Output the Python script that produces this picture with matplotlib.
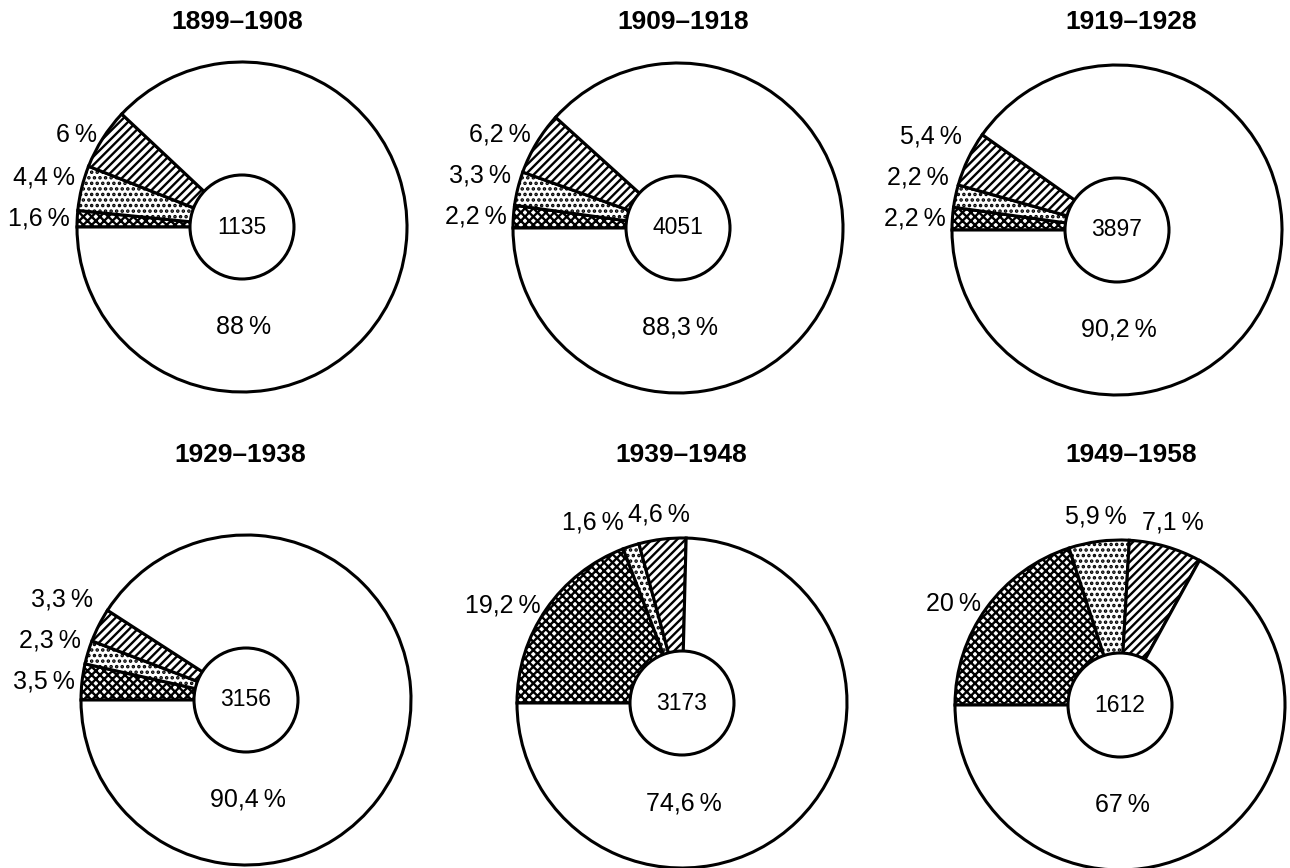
import matplotlib
matplotlib.use("Agg")
import matplotlib.pyplot as plt
from matplotlib.patches import Circle
import numpy as np

plt.rcParams['font.family'] = ['Liberation Sans', 'DejaVu Sans']
plt.rcParams['hatch.linewidth'] = 1.7

# ---- data ----
periods = ["1899–1908", "1909–1918", "1919–1928",
           "1929–1938", "1939–1948", "1949–1958"]
totals = [1135, 4051, 3897, 3156, 3173, 1612]
share_cross = [1.6, 2.2, 2.2, 3.5, 19.2, 20]
share_dots = [4.4, 3.3, 2.2, 2.3, 1.6, 5.9]
share_hatch = [6, 6.2, 5.4, 3.3, 4.6, 7.1]
share_main = [88, 88.3, 90.2, 90.4, 74.6, 67]

# ---- layout (pixel positions, y measured from top) ----
W, H = 1290, 868
centers_px = [(242, 227), (678, 228), (1117, 230),
              (246, 700), (682, 703), (1120, 705)]
title_px = [(237, 22), (683, 22), (1131, 22),
            (240, 455), (681, 455), (1131, 455)]
R = 165
R_IN = 52
LW = 2.2
hatches = ['xxxx', '...', '////']

fig = plt.figure(figsize=(W / 100, H / 100), dpi=100)
ax = fig.add_axes([0, 0, 1, 1])
ax.set_xlim(0, W)
ax.set_ylim(0, H)
ax.set_aspect('equal')


def fmt(v):
    return format(v, 'g').replace('.', ',') + '\u2009%'


all_label_groups = []
for i in range(6):
    cx, cy = centers_px[i][0], H - centers_px[i][1]
    vals = [share_cross[i], share_dots[i], share_hatch[i], share_main[i]]
    wedges, _ = ax.pie(vals, colors=['white'] * 4, startangle=180,
                       counterclock=False, center=(cx, cy), radius=R,
                       wedgeprops=dict(edgecolor='black', linewidth=LW))
    for w, h in zip(wedges[:3], hatches):
        w.set_hatch(h)

    # small-share labels
    prev_dy = None
    prev_ang = None
    group = []
    for w, v in zip(wedges[:3], vals[:3]):
        ang = (w.theta1 + w.theta2) / 2.0
        ang = ((ang + 180) % 360) - 180
        r_lab = 172 if ang > 120 else 190
        dx = r_lab * np.cos(np.radians(ang))
        dy = r_lab * np.sin(np.radians(ang))
        if prev_dy is not None and ang > 120 and prev_ang > 120:
            if dy - prev_dy < 41:
                dy = prev_dy + 41
        prev_dy, prev_ang = dy, ang
        ha = 'right' if ang > 100 else 'center'
        t = ax.text(cx + dx, cy + dy, fmt(v), ha=ha, va='center', fontsize=18)
        group.append(t)
    all_label_groups.append(group)

    # main share label
    ax.text(cx + 2, cy - 100, fmt(share_main[i]), ha='center', va='center',
            fontsize=18)

    # inner circle with total
    ax.add_patch(Circle((cx, cy), R_IN, facecolor='white', edgecolor='black',
                        linewidth=LW, zorder=5))
    ax.text(cx, cy, str(totals[i]), ha='center', va='center', fontsize=16.5,
            zorder=6)

    # title
    ax.text(title_px[i][0], H - title_px[i][1], periods[i], ha='center',
            va='center', fontsize=19, fontweight='bold')

ax.set_xlim(0, W)
ax.set_ylim(0, H)
ax.set_aspect('equal')
ax.axis('off')

# push overlapping labels apart (move the left-hand one further left)
renderer = fig.canvas.get_renderer()
for group in all_label_groups:
    for j in range(len(group) - 1, 0, -1):
        a, b = group[j - 1], group[j]
        ba = a.get_window_extent(renderer)
        bb = b.get_window_extent(renderer)
        if ba.overlaps(bb):
            shift = ba.x1 - bb.x0 + 6
            x, y = a.get_position()
            a.set_position((x - shift, y))

fig.savefig('out.png', dpi=100, facecolor='white')
